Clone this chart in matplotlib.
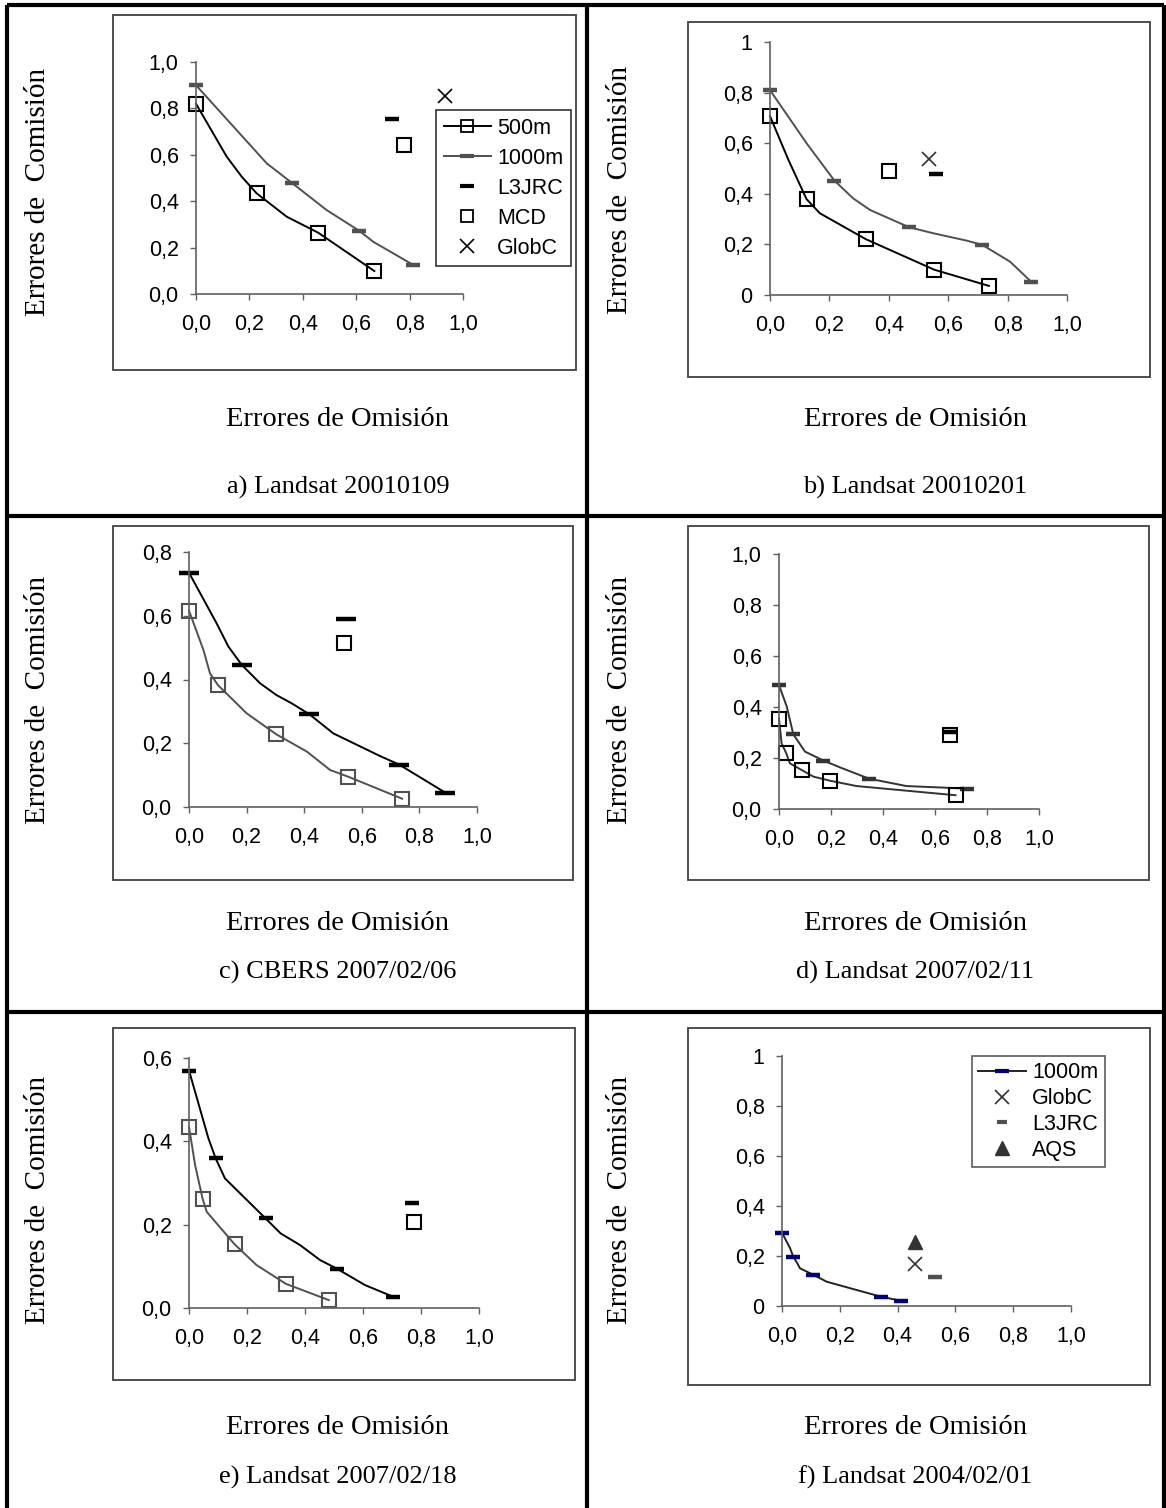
import matplotlib
matplotlib.use("Agg")
import matplotlib.pyplot as plt
from matplotlib.lines import Line2D
from matplotlib.patches import Rectangle

W, H = 1166, 1508

# ---- datos ----
# a) Landsat 20010109
a_500_x = [0, 0.115, 0.171, 0.227, 0.34, 0.458, 0.668]
a_500_y = [0.82, 0.592, 0.506, 0.434, 0.333, 0.264, 0.099]
a_500_mx = [0, 0.227, 0.458, 0.668]
a_500_my = [0.82, 0.434, 0.264, 0.099]
a_1000_x = [0, 0.265, 0.358, 0.489, 0.612, 0.664, 0.814]
a_1000_y = [0.90, 0.563, 0.48, 0.362, 0.272, 0.225, 0.125]
a_1000_mx = [0, 0.358, 0.612, 0.814]
a_1000_my = [0.90, 0.48, 0.272, 0.125]
a_l3jrc = (0.733, 0.754)
a_mcd = (0.78, 0.642)
a_globc = (0.933, 0.855)

# b) Landsat 20010201
b_500_x = [0, 0.062, 0.123, 0.168, 0.322, 0.553, 0.737]
b_500_y = [0.707, 0.534, 0.379, 0.323, 0.221, 0.10, 0.036]
b_500_mx = [0, 0.123, 0.322, 0.553, 0.737]
b_500_my = [0.707, 0.379, 0.221, 0.10, 0.036]
b_1000_x = [0, 0.123, 0.217, 0.28, 0.337, 0.468, 0.55, 0.662, 0.715, 0.808, 0.879]
b_1000_y = [0.81, 0.6, 0.452, 0.382, 0.336, 0.268, 0.244, 0.215, 0.198, 0.132, 0.053]
b_1000_mx = [0, 0.217, 0.468, 0.715, 0.879]
b_1000_my = [0.81, 0.452, 0.268, 0.198, 0.053]
b_l3jrc = (0.558, 0.477)
b_mcd = (0.40, 0.491)
b_globc = (0.536, 0.536)

# c) CBERS 2007/02/06
c_1000_x = [0, 0.096, 0.137, 0.183, 0.247, 0.304, 0.357, 0.418, 0.501, 0.663, 0.73, 0.89]
c_1000_y = [0.735, 0.576, 0.503, 0.446, 0.388, 0.351, 0.325, 0.291, 0.231, 0.16, 0.133, 0.045]
c_1000_mx = [0, 0.183, 0.418, 0.73, 0.89]
c_1000_my = [0.735, 0.446, 0.291, 0.133, 0.045]
c_500_x = [0, 0.05, 0.073, 0.1, 0.2, 0.303, 0.409, 0.49, 0.553, 0.74]
c_500_y = [0.616, 0.493, 0.419, 0.383, 0.294, 0.228, 0.174, 0.116, 0.095, 0.026]
c_500_mx = [0, 0.1, 0.303, 0.553, 0.74]
c_500_my = [0.616, 0.383, 0.228, 0.095, 0.026]
c_l3jrc = (0.544, 0.591)
c_mcd = (0.539, 0.515)

# d) Landsat 2007/02/11
d_1000_x = [0, 0.03, 0.055, 0.1, 0.171, 0.235, 0.346, 0.49, 0.722]
d_1000_y = [0.486, 0.401, 0.293, 0.225, 0.19, 0.163, 0.119, 0.09, 0.08]
d_1000_mx = [0, 0.055, 0.171, 0.346, 0.722]
d_1000_my = [0.486, 0.293, 0.19, 0.119, 0.08]
d_500_x = [0, 0.01, 0.027, 0.042, 0.087, 0.132, 0.196, 0.298, 0.679]
d_500_y = [0.354, 0.257, 0.221, 0.179, 0.153, 0.127, 0.111, 0.09, 0.054]
d_500_mx = [0, 0.027, 0.087, 0.196, 0.679]
d_500_my = [0.354, 0.221, 0.153, 0.111, 0.054]
d_l3jrc = (0.655, 0.301)
d_mcd = (0.658, 0.29)

# e) Landsat 2007/02/18
e_1000_x = [0, 0.067, 0.092, 0.124, 0.264, 0.316, 0.383, 0.452, 0.511, 0.607, 0.704]
e_1000_y = [0.57, 0.407, 0.359, 0.311, 0.215, 0.179, 0.151, 0.115, 0.094, 0.055, 0.027]
e_1000_mx = [0, 0.092, 0.264, 0.511, 0.704]
e_1000_my = [0.57, 0.359, 0.215, 0.094, 0.027]
e_500_x = [0, 0.021, 0.047, 0.061, 0.157, 0.233, 0.334, 0.482]
e_500_y = [0.435, 0.343, 0.262, 0.231, 0.153, 0.103, 0.058, 0.019]
e_500_mx = [0, 0.047, 0.157, 0.334, 0.482]
e_500_my = [0.435, 0.262, 0.153, 0.058, 0.019]
e_l3jrc = (0.77, 0.253)
e_mcd = (0.775, 0.206)

# f) Landsat 2004/02/01
f_1000_x = [0, 0.028, 0.039, 0.053, 0.062, 0.108, 0.155, 0.343, 0.412]
f_1000_y = [0.293, 0.231, 0.197, 0.171, 0.151, 0.125, 0.097, 0.037, 0.021]
f_1000_mx = [0, 0.039, 0.108, 0.343, 0.412]
f_1000_my = [0.293, 0.197, 0.125, 0.037, 0.021]
f_aqs = (0.46, 0.257)
f_globc = (0.46, 0.168)
f_l3jrc = (0.529, 0.117)

captions = ["a) Landsat 20010109", "b) Landsat 20010201", "c) CBERS 2007/02/06",
            "d) Landsat 2007/02/11", "e) Landsat 2007/02/18", "f) Landsat 2004/02/01"]

SERIF = "Liberation Serif"
SANS = "Liberation Sans"
GRAY = "#505050"

fig = plt.figure(figsize=(W / 100, H / 100), dpi=100)


def fx(px):
    return px / W


def fy(py):
    return 1 - py / H


def fig_line(x0, y0, x1, y1, lw=3, color="black"):
    fig.add_artist(Line2D([fx(x0), fx(x1)], [fy(y0), fy(y1)], lw=lw, color=color,
                          transform=fig.transFigure, solid_capstyle="butt"))


def frame(x0, y0, x1, y1):
    fig.add_artist(Rectangle((fx(x0), fy(y1)), fx(x1) - fx(x0), fy(y0) - fy(y1),
                             fill=False, lw=1.3, edgecolor="#404040",
                             transform=fig.transFigure))


def comma(v, intends=False):
    if intends and v in (0, 1):
        return str(int(v))
    return f"{v:.1f}".replace(".", ",")


def make_axes(xl, xr, yb, yt, ymax, intends=False):
    ax = fig.add_axes([fx(xl), fy(yb), fx(xr) - fx(xl), fy(yt) - fy(yb)])
    ax.set_xlim(0, 1)
    ax.set_ylim(0, ymax)
    for s in ["top", "right"]:
        ax.spines[s].set_visible(False)
    for s in ["left", "bottom"]:
        ax.spines[s].set_color("#606060")
        ax.spines[s].set_linewidth(1.2)
    xt = [0, 0.2, 0.4, 0.6, 0.8, 1.0]
    yt_ = [round(i * 0.2, 1) for i in range(int(round(ymax / 0.2)) + 1)]
    ax.set_xticks(xt)
    ax.set_xticklabels([comma(v) for v in xt])
    ax.set_yticks(yt_)
    ax.set_yticklabels([comma(v, intends) for v in yt_])
    ax.tick_params(direction="out", length=4.5, width=1, color="#606060",
                   labelsize=15.5)
    ax.tick_params(axis="x", pad=10)
    ax.tick_params(axis="y", pad=8)
    for lab in ax.get_xticklabels() + ax.get_yticklabels():
        lab.set_fontfamily(SANS)
    ax.patch.set_alpha(0)
    return ax


def texts(cx, ylab_x, ylab_y, xlab_y, cap_y, cap):
    fig.text(fx(ylab_x), fy(ylab_y), "Errores de  Comisión", rotation=90,
             ha="center", va="center", family=SERIF, fontsize=21)
    fig.text(fx(cx), fy(xlab_y), "Errores de Omisión", ha="center", va="center",
             family=SERIF, fontsize=20.5)
    fig.text(fx(cx), fy(cap_y), cap, ha="center", va="center",
             family=SERIF, fontsize=19)


sq = dict(marker="s", mfc="none", ms=10.5, mew=1.5, ls="none", clip_on=False)
dash = dict(marker="_", ms=10, mew=3.2, ls="none", clip_on=False)

# ---- tabla ----
fig_line(7, 5, 1164, 5)
fig_line(7, 5, 7, 1508)
fig_line(1164, 5, 1164, 1508)
fig_line(587, 5, 587, 1508)
fig_line(7, 516, 1164, 516)
fig_line(7, 1012, 1164, 1012)

# ---- a ----
frame(113, 15, 576, 370)
ax = make_axes(196, 463, 294, 62, 1.0)
ax.plot(a_500_x, a_500_y, color="black", lw=1.4, clip_on=False)
ax.plot(a_500_mx, a_500_my, mec="black", **sq)
ax.plot(a_1000_x, a_1000_y, color=GRAY, lw=1.4, clip_on=False)
ax.plot(a_1000_mx, a_1000_my, color=GRAY, **dash)
ax.plot(*a_l3jrc, color="black", **dash)
ax.plot(*a_mcd, mec="black", **sq)
ax.plot(*a_globc, marker="x", color="black", ms=10, mew=1.2, ls="none", clip_on=False)
handles = [
    Line2D([], [], color="black", lw=1.4, marker="s", mfc="none", mec="black", ms=8, mew=1.3),
    Line2D([], [], color=GRAY, lw=1.4, marker="_", ms=10, mew=3),
    Line2D([], [], color="black", ls="none", marker="_", ms=10, mew=3),
    Line2D([], [], ls="none", marker="s", mfc="none", mec="black", ms=8, mew=1.3),
    Line2D([], [], ls="none", marker="x", color="black", ms=10, mew=1.2),
]
leg = fig.legend(handles, ["500m", "1000m", "L3JRC", "MCD", "GlobC"],
                 loc="upper left", bbox_to_anchor=(fx(436), fy(110)),
                 prop={"family": SANS, "size": 15.5}, frameon=True, fancybox=False,
                 edgecolor="black", handlelength=2.2, handletextpad=0.3,
                 labelspacing=0.42, borderpad=0.35, borderaxespad=0)
leg.get_frame().set_linewidth(1.2)
texts(338, 38, 192, 420, 487, captions[0])

# ---- b ----
frame(688, 22, 1150, 377)
ax = make_axes(770, 1067, 295, 42, 1.0, intends=True)
ax.plot(b_500_x, b_500_y, color="black", lw=1.4, clip_on=False)
ax.plot(b_500_mx, b_500_my, mec="black", **sq)
ax.plot(b_1000_x, b_1000_y, color=GRAY, lw=1.4, clip_on=False)
ax.plot(b_1000_mx, b_1000_my, color=GRAY, **dash)
ax.plot(*b_l3jrc, color="black", **dash)
ax.plot(*b_mcd, mec="black", **sq)
ax.plot(*b_globc, marker="x", color="#303030", ms=10, mew=1.2, ls="none", clip_on=False)
texts(915, 620, 190, 420, 487, captions[1])

# ---- c ----
frame(113, 526, 573, 880)
ax = make_axes(189, 477, 807, 552, 0.8)
ax.plot(c_1000_x, c_1000_y, color="black", lw=1.4, clip_on=False)
ax.plot(c_1000_mx, c_1000_my, color="black", **dict(dash, ms=15))
ax.plot(c_500_x, c_500_y, color=GRAY, lw=1.4, clip_on=False)
ax.plot(c_500_mx, c_500_my, mec=GRAY, **sq)
ax.plot(*c_l3jrc, color="black", **dict(dash, ms=15))
ax.plot(*c_mcd, mec="black", **sq)
texts(338, 38, 700, 924, 972, captions[2])

# ---- d ----
frame(688, 526, 1149, 880)
ax = make_axes(779, 1039, 809, 554, 1.0)
ax.plot(d_1000_x, d_1000_y, color="#333333", lw=1.4, clip_on=False)
ax.plot(d_1000_mx, d_1000_my, color="#333333", **dash)
ax.plot(d_500_x, d_500_y, color="#333333", lw=1.4, clip_on=False)
ax.plot(d_500_mx, d_500_my, mec="black", **sq)
ax.plot(*d_mcd, mec="black", **sq)
ax.plot(*d_l3jrc, color="black", **dash)
texts(915, 620, 700, 924, 972, captions[3])

# ---- e ----
frame(113, 1028, 575, 1380)
ax = make_axes(189, 479, 1308, 1058, 0.6)
ax.plot(e_1000_x, e_1000_y, color="black", lw=1.4, clip_on=False)
ax.plot(e_1000_mx, e_1000_my, color="black", **dash)
ax.plot(e_500_x, e_500_y, color=GRAY, lw=1.4, clip_on=False)
ax.plot(e_500_mx, e_500_my, mec=GRAY, **sq)
ax.plot(*e_l3jrc, color="black", **dash)
ax.plot(*e_mcd, mec="black", **sq)
texts(338, 38, 1200, 1427, 1477, captions[4])

# ---- f ----
frame(688, 1028, 1150, 1385)
ax = make_axes(782, 1071, 1306, 1056, 1.0, intends=True)
ax.plot(f_1000_x, f_1000_y, color="#222222", lw=1.4, clip_on=False)
ax.plot(f_1000_mx, f_1000_my, color="#000080", **dash)
ax.plot(*f_aqs, marker="^", color="#333333", ms=10, ls="none", clip_on=False)
ax.plot(*f_globc, marker="x", color="#303030", ms=10, mew=1.2, ls="none", clip_on=False)
ax.plot(*f_l3jrc, color=GRAY, **dash)
handles_f = [
    Line2D([], [], color="#222222", lw=1.4, marker="_", mec="#000080", ms=10, mew=3),
    Line2D([], [], ls="none", marker="x", color="#303030", ms=10, mew=1.2),
    Line2D([], [], ls="none", marker="_", color=GRAY, ms=7, mew=3),
    Line2D([], [], ls="none", marker="^", color="#333333", ms=10),
]
leg = fig.legend(handles_f, ["1000m", "GlobC", "L3JRC", "AQS"],
                 loc="upper left", bbox_to_anchor=(fx(972), fy(1056)),
                 prop={"family": SANS, "size": 15.5}, frameon=True, fancybox=False,
                 edgecolor="#333333", handlelength=2.2, handletextpad=0.3,
                 labelspacing=0.22, borderpad=0.3, borderaxespad=0)
leg.get_frame().set_linewidth(1.2)
texts(915, 620, 1200, 1427, 1477, captions[5])

fig.savefig("out.png", dpi=100)
